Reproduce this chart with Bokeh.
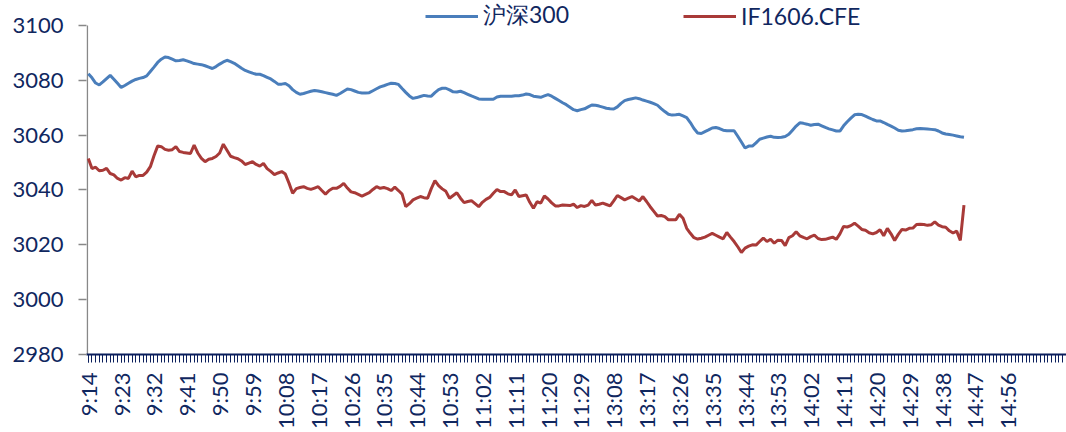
from bokeh.plotting import figure
from bokeh.models import Range1d, FixedTicker, Legend, LegendItem, ColumnDataSource
from bokeh.embed import file_html
from bokeh.resources import INLINE
import math

# categories: trading minutes
def minutes(h0, m0, h1, m1):
    out = []
    t = h0 * 60 + m0
    while t <= h1 * 60 + m1:
        out.append(f"{t // 60}:{t % 60:02d}")
        t += 1
    return out

times = minutes(9, 14, 11, 30) + minutes(13, 1, 15, 15)

hs300 = [
    3082.4, 3080.9, 3079.0, 3078.3, 3079.4, 3080.6, 3081.8, 3080.4, 3078.9, 3077.4,
    3078.1, 3078.9, 3079.7, 3080.3, 3080.7, 3081.0, 3081.6, 3083.2, 3084.8, 3086.5,
    3087.7, 3088.5, 3088.3, 3087.7, 3087.1, 3087.2, 3087.5, 3087.1, 3086.6, 3086.1,
    3085.9, 3085.7, 3085.3, 3084.8, 3084.3, 3085.0, 3085.9, 3086.7, 3087.3, 3086.8,
    3086.2, 3085.3, 3084.4, 3083.6, 3083.1, 3082.6, 3082.2, 3082.2, 3081.7, 3081.1,
    3080.5, 3079.6, 3078.6, 3078.6, 3078.8, 3078.0, 3076.6, 3075.6, 3074.9, 3075.2,
    3075.6, 3076.0, 3076.3, 3076.1, 3075.8, 3075.5, 3075.2, 3074.9, 3074.5, 3075.2,
    3076.0, 3076.8, 3076.6, 3076.1, 3075.6, 3075.4, 3075.4, 3075.5, 3076.2, 3076.9,
    3077.6, 3078.0, 3078.5, 3078.9, 3078.8, 3078.5, 3077.0, 3075.6, 3074.3, 3073.4,
    3073.7, 3074.1, 3074.5, 3074.3, 3074.2, 3075.5, 3076.6, 3077.1, 3077.1, 3076.5,
    3075.8, 3075.7, 3076.0, 3075.5, 3074.9, 3074.3, 3073.8, 3073.2, 3073.1, 3073.1,
    3073.1, 3073.1, 3073.9, 3074.2, 3074.2, 3074.2, 3074.2, 3074.4, 3074.4, 3074.6,
    3075.0, 3074.8, 3074.2, 3074.0, 3073.8, 3074.3, 3074.8, 3074.2, 3073.4, 3072.6,
    3071.8, 3071.1, 3070.2, 3069.3, 3068.9, 3069.3, 3069.6, 3070.3, 3071.0, 3070.9,
    3070.6, 3070.2, 3069.8, 3069.6, 3069.5, 3070.3, 3071.6, 3072.6, 3073.0, 3073.3,
    3073.6, 3073.3, 3072.8, 3072.4, 3072.0, 3071.5, 3070.9, 3069.7, 3068.6, 3067.6,
    3067.3, 3067.4, 3067.6, 3067.0, 3066.4, 3064.6, 3062.4, 3060.8, 3060.6, 3061.3,
    3061.9, 3062.6, 3062.8, 3062.4, 3061.8, 3061.6, 3061.6, 3061.6, 3059.6, 3057.5,
    3055.3, 3056.0, 3056.0, 3057.2, 3058.5, 3058.9, 3059.3, 3059.6, 3059.2, 3059.1,
    3059.2, 3059.5, 3060.3, 3061.8, 3063.3, 3064.5, 3064.3, 3064.0, 3063.6, 3063.9,
    3064.0, 3063.4, 3062.8, 3062.3, 3061.9, 3061.5, 3061.5, 3063.4, 3064.9, 3066.2,
    3067.4, 3067.6, 3067.5, 3066.9, 3066.3, 3065.7, 3065.2, 3065.2, 3064.6, 3063.9,
    3063.3, 3062.6, 3061.8, 3061.5, 3061.6, 3061.8, 3062.0, 3062.3, 3062.4, 3062.3,
    3062.2, 3062.1, 3062.0, 3061.5, 3060.8, 3060.4, 3060.2, 3060.0, 3059.7, 3059.4,
    3059.2,
]

if1606 = [
    3051.5, 3047.8, 3048.3, 3047.0, 3047.2, 3047.9, 3046.0, 3045.5, 3044.2, 3043.6,
    3044.5, 3044.2, 3046.9, 3044.8, 3045.3, 3045.3, 3046.5, 3048.5, 3052.5, 3056.0,
    3055.8, 3054.8, 3054.5, 3054.7, 3055.8, 3054.0, 3053.7, 3053.5, 3053.3, 3056.4,
    3053.5, 3051.5, 3050.3, 3051.2, 3051.5, 3052.2, 3053.5, 3056.7, 3054.5, 3052.3,
    3051.8, 3051.4, 3050.6, 3049.3, 3049.8, 3050.3, 3049.3, 3048.7, 3049.7, 3047.8,
    3046.8, 3045.6, 3046.2, 3046.7, 3045.8, 3042.5, 3038.8, 3040.5, 3040.9, 3041.2,
    3040.6, 3040.2, 3040.7, 3041.2, 3039.8, 3038.5, 3039.8, 3040.6, 3040.6, 3041.3,
    3042.4, 3040.7, 3039.3, 3039.0, 3038.4, 3037.8, 3038.4, 3039.0, 3040.2, 3041.2,
    3040.6, 3040.9, 3040.5, 3039.8, 3041.0, 3039.8, 3038.5, 3033.9, 3035.0, 3036.4,
    3037.0, 3037.6, 3037.2, 3037.0, 3040.5, 3043.4, 3041.6, 3040.4, 3039.5, 3037.0,
    3038.0, 3039.0, 3037.0, 3035.4, 3035.8, 3036.1, 3035.0, 3033.9, 3035.5, 3036.6,
    3037.3, 3038.8, 3040.2, 3039.4, 3039.4, 3038.6, 3038.2, 3040.0, 3037.6, 3037.9,
    3038.2, 3035.5, 3033.3, 3035.7, 3035.2, 3037.8, 3036.7, 3035.3, 3034.2, 3034.2,
    3034.5, 3034.4, 3034.3, 3034.8, 3033.6, 3034.3, 3034.0, 3034.5, 3036.2, 3034.5,
    3034.8, 3035.2, 3034.7, 3034.2, 3036.0, 3038.0, 3037.2, 3036.4, 3037.0, 3037.6,
    3036.8, 3036.0, 3037.6, 3035.8, 3033.9, 3032.2, 3030.5, 3030.7, 3030.3, 3029.1,
    3029.1, 3029.1, 3031.1, 3029.7, 3026.0, 3024.2, 3022.6, 3022.1, 3022.4, 3022.8,
    3023.5, 3024.2, 3023.5, 3022.8, 3022.2, 3024.5, 3022.8, 3021.2, 3019.3, 3017.2,
    3018.8, 3019.5, 3020.0, 3019.9, 3021.2, 3022.5, 3021.2, 3022.0, 3020.6, 3021.7,
    3021.6, 3019.7, 3022.6, 3023.3, 3024.8, 3023.3, 3022.7, 3022.2, 3023.0, 3023.5,
    3022.3, 3021.9, 3022.0, 3022.4, 3022.8, 3022.0, 3024.0, 3026.7, 3026.5, 3027.0,
    3027.9, 3026.8, 3025.6, 3025.3, 3024.4, 3024.0, 3024.5, 3025.5, 3023.3, 3026.0,
    3024.0, 3021.6, 3023.8, 3025.6, 3025.4, 3026.0, 3026.1, 3027.4, 3027.5, 3027.4,
    3027.1, 3027.3, 3028.4, 3027.2, 3026.6, 3026.4, 3025.1, 3024.3, 3025.0, 3021.6,
    3034.5,
]

y_ticks = [2980, 3000, 3020, 3040, 3060, 3080, 3100]
label_step = 9
last_label = "14:56"

NAVY = "#0B1F5C"
TEXT = "#10275F"
GRAY = "#888888"
BLUE = "#4A7EBB"
RED = "#A83A38"
FONT = "Lato"

idx = list(range(len(hs300)))
src = ColumnDataSource(dict(x=idx, hs=hs300, f=if1606, t=times[:len(hs300)]))

X0 = -0.5
# frame extends above the top tick so the legend sits inside it
p = figure(width=1066, height=432, output_backend="svg", toolbar_location=None,
           x_range=Range1d(X0, 268.1), y_range=Range1d(y_ticks[0], y_ticks[-1] + 9.1),
           min_border_left=86, min_border_right=0, min_border_top=0, min_border_bottom=77)
p.outline_line_color = None
p.xgrid.visible = False
p.ygrid.visible = False
p.background_fill_color = "white"

# y axis line drawn only between bottom and top tick
p.segment(x0=[-0.27], y0=[y_ticks[0]], x1=[-0.27], y1=[y_ticks[-1]],
          line_color=GRAY, line_width=1.5)

r1 = p.line("x", "hs", source=src, line_color=BLUE, line_width=3)
r2 = p.line("x", "f", source=src, line_color=RED, line_width=3)

last_idx = times.index(last_label)
major = list(range(0, last_idx + 1, label_step))
p.xaxis.ticker = FixedTicker(ticks=major, minor_ticks=list(range(0, 269)))
p.xaxis.major_label_overrides = {i: times[i] for i in major}
p.xaxis.major_label_orientation = math.pi / 2
p.xaxis.major_label_text_font = FONT
p.xaxis.major_label_text_font_size = "22px"
p.xaxis.major_label_text_color = TEXT
p.xaxis.major_label_standoff = 10
p.xaxis.axis_line_color = NAVY
p.xaxis.axis_line_width = 2
p.xaxis.major_tick_line_color = NAVY
p.xaxis.minor_tick_line_color = NAVY
p.xaxis.major_tick_in = 0
p.xaxis.major_tick_out = 8
p.xaxis.minor_tick_in = 0
p.xaxis.minor_tick_out = 8

p.yaxis.ticker = FixedTicker(ticks=y_ticks, minor_ticks=[])
p.yaxis.major_label_text_font = FONT
p.yaxis.major_label_text_font_size = "22px"
p.yaxis.major_label_text_color = TEXT
p.yaxis.major_label_standoff = 15
p.yaxis.axis_line_color = None
p.yaxis.major_tick_line_color = GRAY
p.yaxis.major_tick_line_width = 1.5
p.yaxis.major_tick_in = 0
p.yaxis.major_tick_out = 8

legend = Legend(items=[LegendItem(label="沪深300", renderers=[r1]),
                       LegendItem(label="IF1606.CFE", renderers=[r2])],
                orientation="horizontal", location=(339, 323))
legend.border_line_alpha = 0
legend.background_fill_alpha = 0
legend.glyph_width = 53
legend.glyph_height = 20
legend.label_height = 20
legend.label_standoff = 5
legend.spacing = 114
legend.padding = 0
legend.margin = 0
legend.label_text_font = FONT
legend.label_text_font_size = "23px"
legend.label_text_color = TEXT
p.add_layout(legend, "center")

open("out.html", "w").write(file_html(p, INLINE))
